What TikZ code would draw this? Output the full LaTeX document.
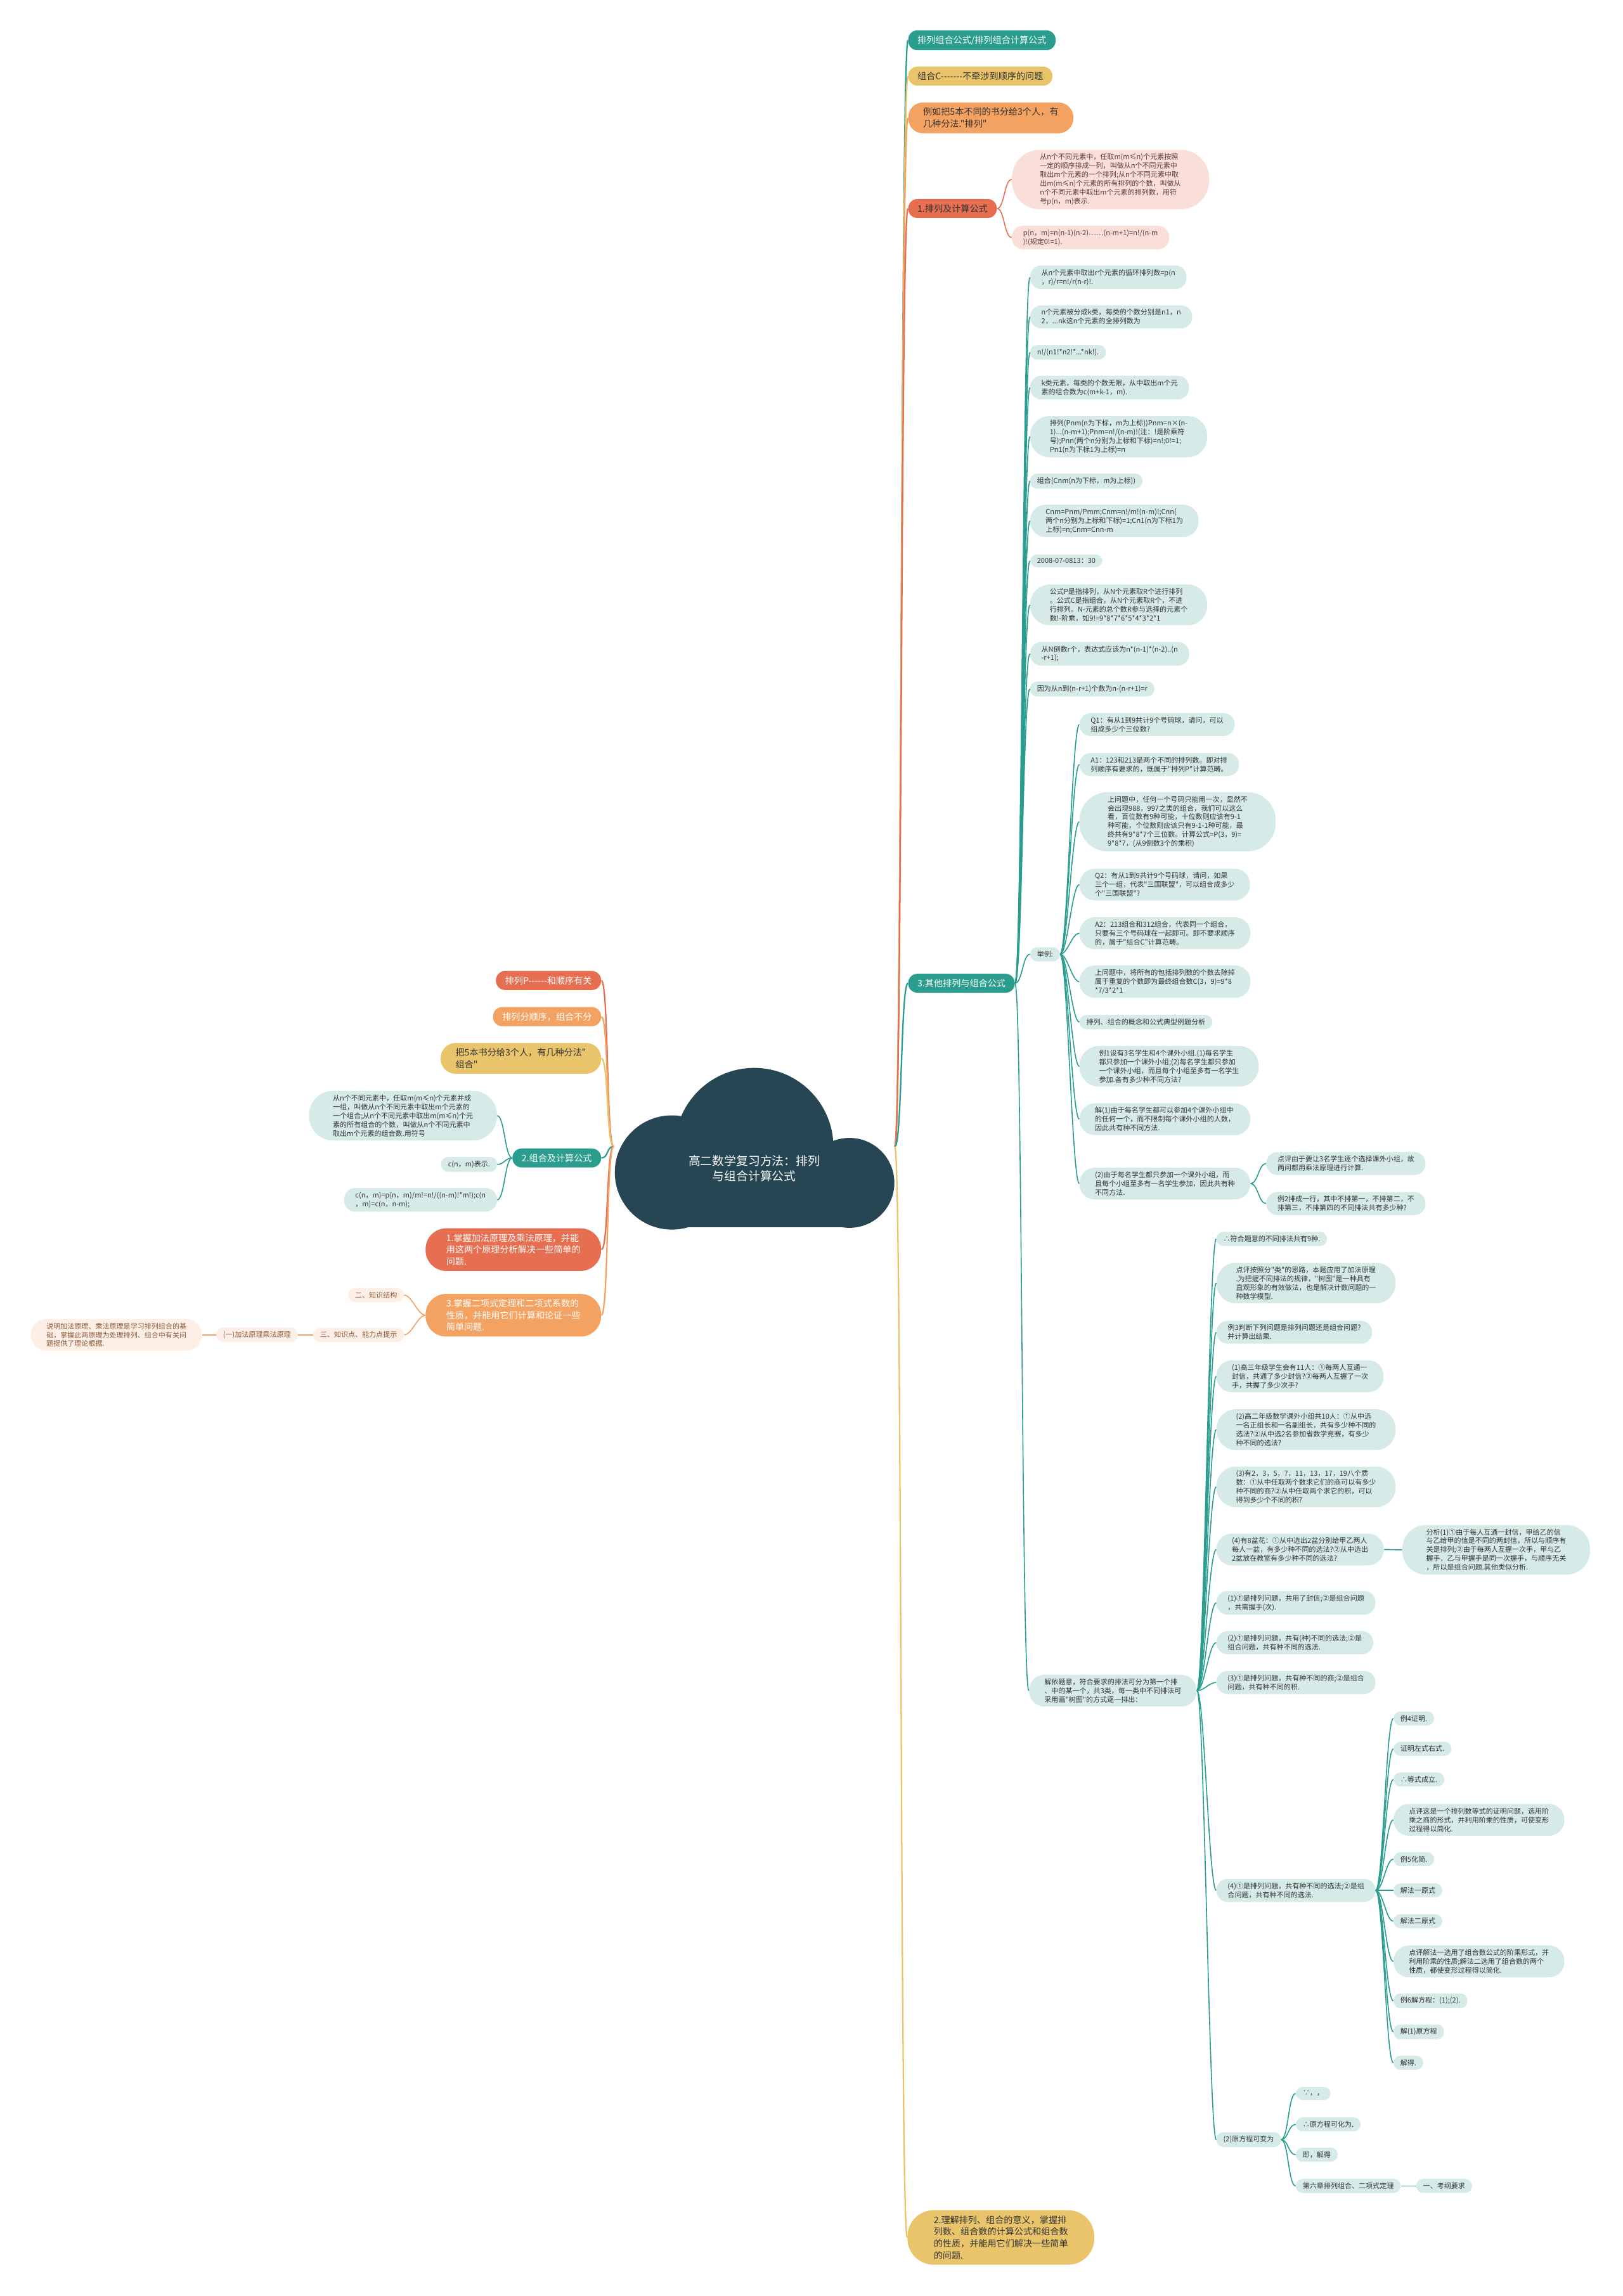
\documentclass[tikz,border=0pt]{standalone}
\usepackage{fontspec}
\newfontfamily\zhfont{Noto Sans CJK SC}

\definecolor{mmTeal}{HTML}{2A9D8F}
\definecolor{mmYellow}{HTML}{E9C46A}
\definecolor{mmOrange}{HTML}{F4A261}
\definecolor{mmRed}{HTML}{E76F51}
\definecolor{mmCloud}{HTML}{264653}
\definecolor{leafTeal}{HTML}{D6EBE8}
\definecolor{leafPink}{HTML}{FADFD9}
\definecolor{leafPeach}{HTML}{FDEFE6}
\definecolor{txtDark}{HTML}{333333}
\definecolor{txtPink}{HTML}{5A3A33}
\definecolor{txtPeach}{HTML}{8A5A3A}

\tikzset{
  pill/.style={rectangle, rounded corners=#1, inner xsep=#1},
  mainnode/.style={pill=9pt, inner ysep=5.2pt, align=left,
    font=\zhfont\fontsize{8.7pt}{11.5pt}\selectfont},
  mn2/.style={pill=14.5pt}, mn3/.style={pill=20pt}, mn4/.style={pill=25.5pt},
  leafnode/.style={pill=6.7pt, inner ysep=3.7pt, align=left,
    fill=leafTeal, text=txtDark, font=\zhfont\fontsize{6.8pt}{8.6pt}\selectfont},
  lf2/.style={pill=10.9pt}, lf3/.style={pill=15pt}, lf4/.style={pill=19pt},
  lf5/.style={pill=23.2pt}, lf6/.style={pill=27.3pt},
  pinkleaf/.style={leafnode, fill=leafPink, text=txtPink},
  peachleaf/.style={leafnode, fill=leafPeach, text=txtPeach},
  rootline/.style={line width=1.4pt},
  subline/.style={line width=1pt}
}
% curved link, child to the right / to the left
\newcommand{\linkR}[3]{%
  \draw[subline, #1] (#2) .. controls +(5,0) and +(-5,0) .. (#3.west);
}
\newcommand{\linkL}[3]{%
  \draw[subline, #1] (#2) .. controls +(-5,0) and +(5,0) .. (#3.east);
}

\begin{document}
\begin{tikzpicture}[x=0.05cm, y=-0.05cm]
    \useasboundingbox (0,0) rectangle (1108,1568);

    % root cloud
    \fill[mmCloud] (458.8,800.7) circle[radius=1.95cm];
    \fill[mmCloud] (515,783.4) circle[radius=2.705cm];
    \fill[mmCloud] (580,807.8) circle[radius=1.535cm];
    \fill[mmCloud] (458.8,800.7) rectangle (580,838.3);
    \node[text=white, align=center, font=\zhfont\fontsize{11.6pt}{14.4pt}\selectfont] (root) at (515,798) {高二数学复习方法：排列\\与组合计算公式};
    \coordinate (rootR) at (611,783);
    \coordinate (rootL) at (419,783);

    % right main branches
    \node[mainnode, fill=mmTeal, text=white, anchor=west] (M1) at (620,27.5) {排列组合公式/排列组合计算公式};
    \node[mainnode, fill=mmYellow, text=txtDark, anchor=west] (M2) at (620,52) {组合C-------不牵涉到顺序的问题};
    \node[mainnode, mn2, fill=mmOrange, text=txtDark, anchor=west] (M3) at (620,80.5) {例如把5本不同的书分给3个人，有\\几种分法."排列"};
    \node[mainnode, fill=mmRed, text=txtDark, anchor=west] (M4) at (620,142.4) {1.排列及计算公式};
    \node[mainnode, fill=mmTeal, text=white, anchor=west] (M5) at (620,671.5) {3.其他排列与组合公式};
    \node[mainnode, mn4, fill=mmYellow, text=txtDark, anchor=west] (M6) at (619.5,1528) {2.理解排列、组合的意义，掌握排\\列数、组合数的计算公式和组合数\\的性质，并能用它们解决一些简单\\的问题.};

    \node[pinkleaf, lf6, anchor=west] (P1) at (690.8,122.6) {从n个不同元素中，任取m(m≤n)个元素按照\\一定的顺序排成一列，叫做从n个不同元素中\\取出m个元素的一个排列;从n个不同元素中取\\出m(m≤n)个元素的所有排列的个数，叫做从\\n个不同元素中取出m个元素的排列数，用符\\号p(n，m)表示.};
    \node[pinkleaf, lf2, anchor=west] (P2) at (690.8,162.2) {p(n，m)=n(n-1)(n-2)……(n-m+1)=n!/(n-m\\)!(规定0!=1).};

    % children of 3.其他排列与组合公式
    \node[leafnode, lf2, anchor=west] (c1) at (703.3,189.4) {从n个元素中取出r个元素的循环排列数=p(n\\，r)/r=n!/r(n-r)!.};
    \node[leafnode, lf2, anchor=west] (c2) at (703.3,216.4) {n个元素被分成k类，每类的个数分别是n1，n\\2，...nk这n个元素的全排列数为};
    \node[leafnode, anchor=west] (c3) at (703.3,240.6) {n!/(n1!*n2!*...*nk!).};
    \node[leafnode, lf2, anchor=west] (c4) at (703.3,264.7) {k类元素，每类的个数无限，从中取出m个元\\素的组合数为c(m+k-1，m).};
    \node[leafnode, lf4, anchor=west] (c5) at (703.3,298.2) {排列(Pnm(n为下标，m为上标))Pnm=n×(n-\\1)...(n-m+1);Pnm=n!/(n-m)!(注：!是阶乘符\\号);Pnn(两个n分别为上标和下标)=n!;0!=1;\\Pn1(n为下标1为上标)=n};
    \node[leafnode, anchor=west] (c6) at (703.3,328.5) {组合(Cnm(n为下标，m为上标))};
    \node[leafnode, lf3, anchor=west] (c7) at (703.3,355.7) {Cnm=Pnm/Pmm;Cnm=n!/m!(n-m)!;Cnn(\\两个n分别为上标和下标)=1;Cn1(n为下标1为\\上标)=n;Cnm=Cnn-m};
    \node[leafnode, anchor=west] (c8) at (703.3,383) {2008-07-0813：30};
    \node[leafnode, lf4, anchor=west] (c9) at (703.3,413.1) {公式P是指排列，从N个元素取R个进行排列\\。公式C是指组合，从N个元素取R个，不进\\行排列。N-元素的总个数R参与选择的元素个\\数!-阶乘，如9!=9*8*7*6*5*4*3*2*1};
    \node[leafnode, lf2, anchor=west] (c10) at (703.3,446.5) {从N倒数r个，表达式应该为n*(n-1)*(n-2)..(n\\-r+1);};
    \node[leafnode, anchor=west] (c11) at (703.3,470.5) {因为从n到(n-r+1)个数为n-(n-r+1)=r};
    \node[leafnode, anchor=west] (c12) at (703.3,651.7) {举例:};
    \node[leafnode, lf3, anchor=west] (c13) at (702.5,1154.6) {解依题意，符合要求的排法可分为第一个排\\、中的某一个，共3类，每一类中不同排法可\\采用画"树图"的方式逐一排出：};

    % 举例
    \node[leafnode, lf2, anchor=west] (e1) at (737,494.8) {Q1：有从1到9共计9个号码球，请问，可以\\组成多少个三位数?};
    \node[leafnode, lf2, anchor=west] (e2) at (737,522.1) {A1：123和213是两个不同的排列数。即对排\\列顺序有要求的，既属于"排列P"计算范畴。};
    \node[leafnode, lf6, anchor=west] (e3) at (737,561.2) {上问题中，任何一个号码只能用一次，显然不\\会出现988，997之类的组合，我们可以这么\\看，百位数有9种可能，十位数则应该有9-1\\种可能，个位数则应该只有9-1-1种可能，最\\终共有9*8*7个三位数。计算公式=P(3，9)=\\9*8*7，(从9倒数3个的乘积)};
    \node[leafnode, lf3, anchor=west] (e4) at (737,604.1) {Q2：有从1到9共计9个号码球，请问，如果\\三个一组，代表"三国联盟"，可以组合成多少\\个"三国联盟"?};
    \node[leafnode, lf3, anchor=west] (e5) at (737,637.3) {A2：213组合和312组合，代表同一个组合，\\只要有三个号码球在一起即可。即不要求顺序\\的，属于"组合C"计算范畴。};
    \node[leafnode, lf3, anchor=west] (e6) at (737,670.4) {上问题中，将所有的包括排列数的个数去除掉\\属于重复的个数即为最终组合数C(3，9)=9*8\\*7/3*2*1};
    \node[leafnode, anchor=west] (e7) at (737,698) {排列、组合的概念和公式典型例题分析};
    \node[leafnode, lf4, anchor=west] (e8) at (737,728.2) {例1设有3名学生和4个课外小组.(1)每名学生\\都只参加一个课外小组;(2)每名学生都只参加\\一个课外小组，而且每个小组至多有一名学生\\参加.各有多少种不同方法?};
    \node[leafnode, lf3, anchor=west] (e9) at (737,764.3) {解(1)由于每名学生都可以参加4个课外小组中\\的任何一个，而不限制每个课外小组的人数，\\因此共有种不同方法.};
    \node[leafnode, lf3, anchor=west] (e10) at (737,808.3) {(2)由于每名学生都只参加一个课外小组，而\\且每个小组至多有一名学生参加，因此共有种\\不同方法.};
    \node[leafnode, lf2, anchor=west] (f1) at (864.5,794.6) {点评由于要让3名学生逐个选择课外小组，故\\两问都用乘法原理进行计算.};
    \node[leafnode, lf2, anchor=west] (f2) at (864.5,821.9) {例2排成一行，其中不排第一，不排第二，不\\排第三，不排第四的不同排法共有多少种?};

    % 解依题意
    \node[leafnode, anchor=west] (g1) at (830.5,846.1) {∴符合题意的不同排法共有9种.};
    \node[leafnode, lf4, anchor=west] (g2) at (830.5,876.2) {点评按照分"类"的思路，本题应用了加法原理\\.为把握不同排法的规律，"树图"是一种具有\\直观形象的有效做法，也是解决计数问题的一\\种数学模型.};
    \node[leafnode, lf2, anchor=west] (g3) at (830.5,909.8) {例3判断下列问题是排列问题还是组合问题?\\并计算出结果.};
    \node[leafnode, lf3, anchor=west] (g4) at (830.5,939.9) {(1)高三年级学生会有11人：①每两人互通一\\封信，共通了多少封信?②每两人互握了一次\\手，共握了多少次手?};
    \node[leafnode, lf4, anchor=west] (g5) at (830.5,976.3) {(2)高二年级数学课外小组共10人：①从中选\\一名正组长和一名副组长，共有多少种不同的\\选法?②从中选2名参加省数学竞赛，有多少\\种不同的选法?};
    \node[leafnode, lf4, anchor=west] (g6) at (830.5,1015.4) {(3)有2，3，5，7，11，13，17，19八个质\\数：①从中任取两个数求它们的商可以有多少\\种不同的商?②从中任取两个求它的积，可以\\得到多少个不同的积?};
    \node[leafnode, lf3, anchor=west] (g7) at (830.5,1058.2) {(4)有8盆花：①从中选出2盆分别给甲乙两人\\每人一盆，有多少种不同的选法?②从中选出\\2盆放在教室有多少种不同的选法?};
    \node[leafnode, lf2, anchor=west] (g8) at (830.5,1094.6) {(1)①是排列问题，共用了封信;②是组合问题\\，共需握手(次).};
    \node[leafnode, lf2, anchor=west] (g9) at (830.5,1121.8) {(2)①是排列问题，共有(种)不同的选法;②是\\组合问题，共有种不同的选法.};
    \node[leafnode, lf2, anchor=west] (g10) at (830.5,1149) {(3)①是排列问题，共有种不同的商;②是组合\\问题，共有种不同的积.};
    \node[leafnode, lf2, anchor=west] (g11) at (830.5,1291) {(4)①是排列问题，共有种不同的选法;②是组\\合问题，共有种不同的选法.};
    \node[leafnode, anchor=west] (g12) at (830.5,1461.2) {(2)原方程可变为};
    \node[leafnode, lf5, anchor=west] (h1) at (957.4,1058.4) {分析(1)①由于每人互通一封信，甲给乙的信\\与乙给甲的信是不同的两封信，所以与顺序有\\关是排列;②由于每两人互握一次手，甲与乙\\握手，乙与甲握手是同一次握手，与顺序无关\\，所以是组合问题.其他类似分析.};

    \node[leafnode, anchor=west] (i1) at (951.4,1173.6) {例4证明.};
    \node[leafnode, anchor=west] (i2) at (951.4,1194.3) {证明左式右式.};
    \node[leafnode, anchor=west] (i3) at (951.4,1215.3) {∴等式成立.};
    \node[leafnode, lf3, anchor=west] (i4) at (951.4,1242.8) {点评这是一个排列数等式的证明问题，选用阶\\乘之商的形式，并利用阶乘的性质，可使变形\\过程得以简化.};
    \node[leafnode, anchor=west] (i5) at (951.4,1269.7) {例5化简.};
    \node[leafnode, anchor=west] (i6) at (951.4,1291) {解法一原式};
    \node[leafnode, anchor=west] (i7) at (951.4,1312) {解法二原式};
    \node[leafnode, lf3, anchor=west] (i8) at (951.4,1339.5) {点评解法一选用了组合数公式的阶乘形式，并\\利用阶乘的性质;解法二选用了组合数的两个\\性质，都使变形过程得以简化.};
    \node[leafnode, anchor=west] (i9) at (951.4,1366.4) {例6解方程：(1);(2).};
    \node[leafnode, anchor=west] (i10) at (951.4,1387.6) {解(1)原方程};
    \node[leafnode, anchor=west] (i11) at (951.4,1408.7) {解得.};

    \node[leafnode, anchor=west] (j1) at (884.7,1429.7) {∵，，};
    \node[leafnode, anchor=west] (j2) at (884.7,1450.8) {∴原方程可化为.};
    \node[leafnode, anchor=west] (j3) at (884.7,1471.5) {即，解得};
    \node[leafnode, anchor=west] (j4) at (884.7,1492.8) {第六章排列组合、二项式定理};
    \node[leafnode, anchor=west] (k1) at (966.9,1492.8) {一、考纲要求};

    % left main branches
    \node[mainnode, fill=mmRed, text=white, anchor=east] (L1) at (410.6,669.6) {排列P------和顺序有关};
    \node[mainnode, fill=mmOrange, text=white, anchor=east] (L2) at (410.6,694.3) {排列分顺序，组合不分};
    \node[mainnode, mn2, fill=mmYellow, text=txtDark, anchor=east] (L3) at (410.6,722.8) {把5本书分给3个人，有几种分法"\\组合"};
    \node[mainnode, fill=mmTeal, text=white, anchor=east] (L4) at (410.6,790.8) {2.组合及计算公式};
    \node[mainnode, mn3, fill=mmRed, text=white, anchor=east] (L5) at (410.6,853.4) {1.掌握加法原理及乘法原理，并能\\用这两个原理分析解决一些简单的\\问题.};
    \node[mainnode, mn3, fill=mmOrange, text=white, anchor=east] (L6) at (410.6,898.2) {3.掌握二项式定理和二项式系数的\\性质，并能用它们计算和论证一些\\简单问题.};

    \node[leafnode, lf5, anchor=east] (la) at (339.5,761.9) {从n个不同元素中，任取m(m≤n)个元素并成\\一组，叫做从n个不同元素中取出m个元素的\\一个组合;从n个不同元素中取出m(m≤n)个元\\素的所有组合的个数，叫做从n个不同元素中\\取出m个元素的组合数.用符号};
    \node[leafnode, anchor=east] (lb) at (339.5,795.2) {c(n，m)表示.};
    \node[leafnode, lf2, anchor=east] (lc) at (339.5,819.4) {c(n，m)=p(n，m)/m!=n!/((n-m)!*m!);c(n\\，m)=c(n，n-m);};

    \node[peachleaf, anchor=east] (ma) at (276,884.4) {二、知识结构};
    \node[peachleaf, anchor=east] (mb) at (276,911.6) {三、知识点、能力点提示};
    \node[peachleaf, anchor=east] (mc) at (203.4,911.6) {(一)加法原理乘法原理};
    \node[peachleaf, lf3, anchor=east] (md) at (138,911.6) {说明加法原理、乘法原理是学习排列组合的基\\础，掌握此两原理为处理排列、组合中有关问\\题提供了理论根据.};

    % links from the root
    \foreach \n/\c in {M1/mmTeal, M2/mmYellow, M3/mmOrange, M4/mmRed, M5/mmTeal, M6/mmYellow}
        \draw[rootline, \c] (rootR) .. controls +(5,0) and +(-5,0) .. (\n.west);
    \foreach \n/\c in {L1/mmRed, L2/mmOrange, L3/mmYellow, L4/mmTeal, L5/mmRed, L6/mmOrange}
        \draw[rootline, \c] (rootL) .. controls +(-5,0) and +(5,0) .. (\n.east);

    % links inside the branches
    \linkR{mmRed}{M4.east}{P1}
    \linkR{mmRed}{M4.east}{P2}
    \foreach \i in {1,...,13} {\linkR{mmTeal}{M5.east}{c\i}}
    \foreach \i in {1,...,10} {\linkR{mmTeal}{c12.east}{e\i}}
    \linkR{mmTeal}{e10.east}{f1}
    \linkR{mmTeal}{e10.east}{f2}
    \foreach \i in {1,...,12} {\linkR{mmTeal}{c13.east}{g\i}}
    \draw[subline, mmTeal] (g7.east) -- (h1.west);
    \foreach \i in {1,...,11} {\linkR{mmTeal}{g11.east}{i\i}}
    \foreach \i in {1,...,4} {\linkR{mmTeal}{g12.east}{j\i}}
    \draw[subline, mmTeal] (j4.east) -- (k1.west);

    \foreach \n in {la,lb,lc} {\linkL{mmTeal}{L4.west}{\n}}
    \linkL{mmOrange}{L6.west}{ma}
    \linkL{mmOrange}{L6.west}{mb}
    \draw[subline, mmOrange] (mb.west) -- (mc.east);
    \draw[subline, mmOrange] (mc.west) -- (md.east);
\end{tikzpicture}
\end{document}
